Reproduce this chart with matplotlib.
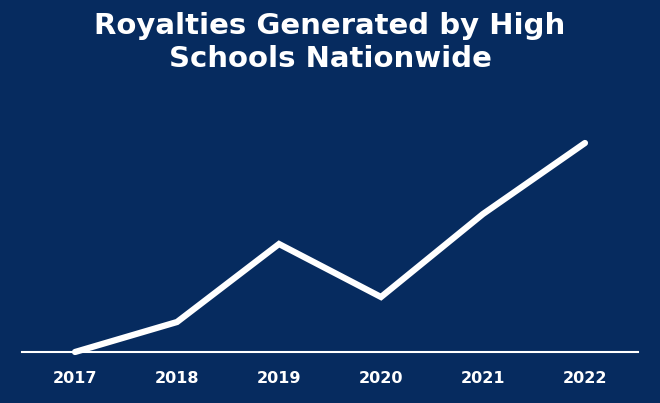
import matplotlib
matplotlib.use("Agg")
import matplotlib.pyplot as plt

years = ["2017", "2018", "2019", "2020", "2021", "2022"]
royalties = [0, 30, 108, 55, 138, 209]

bg = "#062b5f"
fig = plt.figure(figsize=(6.6, 4.03), dpi=100, facecolor=bg)
ax = fig.add_axes([22/660, (403-352)/403, 616/660, 222/403], facecolor=bg)
x = list(range(len(years)))
ax.plot(x, royalties, color="white", lw=4.5, solid_capstyle="round", solid_joinstyle="miter", clip_on=False)
ax.set_xlim(-0.52, 5.52)
ax.set_ylim(0, 222)
for s in ["top", "right", "left"]:
    ax.spines[s].set_visible(False)
ax.spines["bottom"].set_color("white")
ax.spines["bottom"].set_linewidth(1.5)
ax.set_yticks([])
ax.set_xticks(x)
ax.set_xticklabels(years, color="white", fontsize=11.5, fontweight="bold", family="DejaVu Sans")
ax.tick_params(axis="x", length=0, pad=14)
fig.text(0.5, 0.895, "Royalties Generated by High\nSchools Nationwide", ha="center", va="center",
         color="white", fontsize=21, fontweight="bold", family="DejaVu Sans", linespacing=1.2)
fig.savefig("out.png", dpi=100, facecolor=bg)
